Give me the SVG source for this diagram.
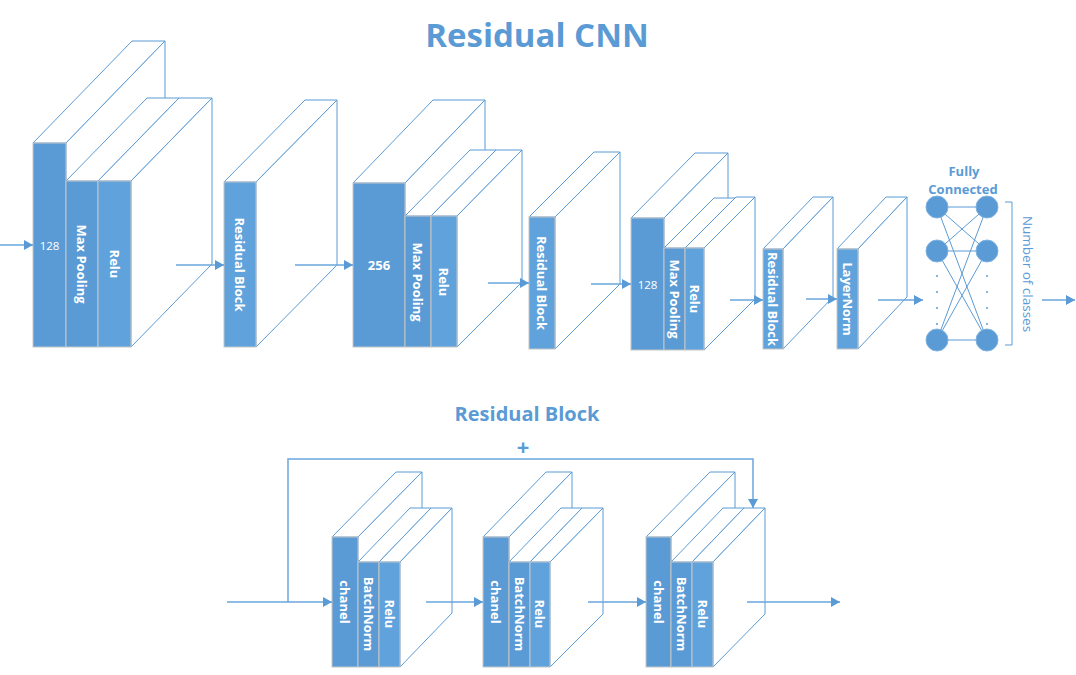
<svg xmlns="http://www.w3.org/2000/svg" width="1076" height="675" viewBox="0 0 1076 675">
<defs>
<style>
.face{fill:#fff;stroke:#5b9bd5;stroke-width:1}
.front{fill:#5b9bd5;stroke:#c6c6c6;stroke-width:1}
.front2{fill:#5fa2dc;stroke:#c6c6c6;stroke-width:1}
.lbl{font-family:'Open Sans','Liberation Sans',sans-serif;font-weight:bold;font-size:13px;fill:#fff;text-anchor:middle;dominant-baseline:central}
.num{font-family:'Open Sans','Liberation Sans',sans-serif;font-size:11.5px;fill:#fff;text-anchor:middle;dominant-baseline:central}
.title{font-family:'Open Sans','Liberation Sans',sans-serif;font-weight:bold;fill:#5b9bd5;text-anchor:middle}
.conn{fill:none;stroke:#6aa6dc;stroke-width:1.5}
.fc{stroke:#5b9bd5;stroke-width:1;fill:none}
.node{fill:#5b9bd5;stroke:#7fb2e0;stroke-width:1}
.dot{fill:#5b9bd5}
</style>
<marker id="arr" markerUnits="userSpaceOnUse" markerWidth="10" markerHeight="10" refX="9" refY="5" orient="auto">
<path d="M0,0 L9,5 L0,10 z" fill="#5b9bd5"/>
</marker>
</defs>
<rect width="1076" height="675" fill="#fff"/>
<text class="title" x="537" y="47" font-size="33">Residual CNN</text>
<text class="title" x="527" y="421" font-size="20">Residual Block</text>
<text class="title" x="523" y="455" font-size="22">+</text>

<!-- Top row -->
<g id="conv128a">
<polygon class="face" points="33,143 66,143 165,41 132,41"/>
<polygon class="face" points="66,143 165,41 165,245 66,347"/>
<rect class="front" x="33" y="143" width="33" height="204"/>
<text class="num" x="49.5" y="245">128</text>
</g>
<g id="maxpool1">
<polygon class="face" points="66,181 98,181 179,98 147,98"/>
<rect class="front" x="66" y="181" width="32" height="166"/>
<text class="lbl" transform="translate(82,264) rotate(90)">Max Pooling</text>
</g>
<g id="relu1">
<polygon class="face" points="98,181 131,181 212,98 179,98"/>
<polygon class="face" points="131,181 212,98 212,264 131,347"/>
<rect class="front2" x="98" y="181" width="33" height="166"/>
<text class="lbl" transform="translate(114.5,264) rotate(90)">Relu</text>
</g>
<g id="resblock1">
<polygon class="face" points="224,182 256,182 337,100 305,100"/>
<polygon class="face" points="256,182 337,100 337,265 256,347"/>
<rect class="front2" x="224" y="182" width="32" height="165"/>
<text class="lbl" transform="translate(240,264.5) rotate(90)">Residual Block</text>
</g>
<g id="conv256">
<polygon class="face" points="353,183 405,183 485,100 433,100"/>
<polygon class="face" points="405,183 485,100 485,264 405,347"/>
<rect class="front" x="353" y="183" width="52" height="164"/>
<text class="lbl" x="379" y="265" font-size="14">256</text>
</g>
<g id="maxpool2">
<polygon class="face" points="405,216 431,216 496,150 470,150"/>
<rect class="front" x="405" y="216" width="26" height="131"/>
<text class="lbl" transform="translate(418,282) rotate(90)">Max Pooling</text>
</g>
<g id="relu2">
<polygon class="face" points="431,216 457,216 522,150 496,150"/>
<polygon class="face" points="457,216 522,150 522,282 457,347"/>
<rect class="front2" x="431" y="216" width="26" height="131"/>
<text class="lbl" transform="translate(444,282) rotate(90)">Relu</text>
</g>
<g id="resblock2">
<polygon class="face" points="529,217 555,217 620,152 594,152"/>
<polygon class="face" points="555,217 620,152 620,284 555,349"/>
<rect class="front2" x="529" y="217" width="26" height="132"/>
<text class="lbl" transform="translate(542,283) rotate(90)">Residual Block</text>
</g>
<g id="conv128b">
<polygon class="face" points="631,218 664,218 728,153 695,153"/>
<polygon class="face" points="664,218 728,153 728,285 664,350"/>
<rect class="front" x="631" y="218" width="33" height="132"/>
<text class="num" x="647.5" y="284">128</text>
</g>
<g id="maxpool3">
<polygon class="face" points="664,248 685,248 735,198 714,198"/>
<rect class="front" x="664" y="248" width="21" height="102"/>
<text class="lbl" transform="translate(674.5,299) rotate(90)">Max Pooling</text>
</g>
<g id="relu3">
<polygon class="face" points="685,248 704,248 755,197 736,197"/>
<polygon class="face" points="704,248 755,197 755,299 704,350"/>
<rect class="front2" x="685" y="248" width="19" height="102"/>
<text class="lbl" transform="translate(694.5,299) rotate(90)">Relu</text>
</g>
<g id="resblock3">
<polygon class="face" points="763,249 783,249 833,197 813,197"/>
<polygon class="face" points="783,249 833,197 833,297 783,349"/>
<rect class="front2" x="763" y="249" width="20" height="100"/>
<text class="lbl" transform="translate(773,299) rotate(90)" font-size="11">Residual Block</text>
</g>
<g id="layernorm">
<polygon class="face" points="837,249 858,249 907,197 886,197"/>
<polygon class="face" points="858,249 907,197 907,297 858,349"/>
<rect class="front2" x="837" y="249" width="21" height="100"/>
<text class="lbl" transform="translate(847.5,299) rotate(90)">LayerNorm</text>
</g>

<g id="fully-connected">
<text class="title" x="964" y="176" font-size="13">Fully</text>
<text class="title" x="963" y="194" font-size="13">Connected</text>
<g class="fc">
<line x1="937" y1="207" x2="987" y2="207"/>
<line x1="937" y1="207" x2="987" y2="251"/>
<line x1="937" y1="207" x2="987" y2="340"/>
<line x1="937" y1="251" x2="987" y2="207"/>
<line x1="937" y1="251" x2="987" y2="251"/>
<line x1="937" y1="251" x2="987" y2="340"/>
<line x1="937" y1="340" x2="987" y2="207"/>
<line x1="937" y1="340" x2="987" y2="251"/>
<line x1="937" y1="340" x2="987" y2="340"/>
</g>
<circle class="node" cx="937" cy="207" r="11"/>
<circle class="node" cx="937" cy="251" r="11"/>
<circle class="node" cx="937" cy="340" r="11"/>
<circle class="node" cx="987" cy="207" r="11"/>
<circle class="node" cx="987" cy="251" r="11"/>
<circle class="node" cx="987" cy="340" r="11"/>
<circle class="dot" cx="937" cy="276" r="1"/>
<circle class="dot" cx="937" cy="292" r="1"/>
<circle class="dot" cx="937" cy="308" r="1"/>
<circle class="dot" cx="937" cy="324" r="1"/>
<circle class="dot" cx="987" cy="276" r="1"/>
<circle class="dot" cx="987" cy="292" r="1"/>
<circle class="dot" cx="987" cy="308" r="1"/>
<circle class="dot" cx="987" cy="324" r="1"/>
<path class="fc" d="M1005,202 H1012 V345 H1005"/>
<text transform="translate(1028,274) rotate(90)" font-family="'Open Sans','Liberation Sans',sans-serif" font-size="13.5" fill="#5b9bd5" text-anchor="middle" dominant-baseline="central">Number of classes</text>
</g>

<!-- Bottom row -->
<g id="b1-chanel">
<polygon class="face" points="332,537 358,537 422,472 396,472"/>
<polygon class="face" points="358,537 422,472 422,602 358,667"/>
<rect class="front" x="332" y="537" width="26" height="130"/>
<text class="lbl" transform="translate(345,602) rotate(90)">chanel</text>
</g>
<g id="b1-batchnorm">
<polygon class="face" points="358,562 379,562 431,508 410,508"/>
<rect class="front" x="358" y="562" width="21" height="105"/>
<text class="lbl" transform="translate(368.5,614) rotate(90)">BatchNorm</text>
</g>
<g id="b1-relu">
<polygon class="face" points="379,562 400,562 452,508 431,508"/>
<polygon class="face" points="400,562 452,508 452,613 400,667"/>
<rect class="front2" x="379" y="562" width="21" height="105"/>
<text class="lbl" transform="translate(389.5,614) rotate(90)">Relu</text>
</g>
<g id="b2-chanel">
<polygon class="face" points="483,537 509,537 572,472 546,472"/>
<polygon class="face" points="509,537 572,472 572,602 509,667"/>
<rect class="front" x="483" y="537" width="26" height="130"/>
<text class="lbl" transform="translate(496,602) rotate(90)">chanel</text>
</g>
<g id="b2-batchnorm">
<polygon class="face" points="509,562 530,562 582,508 561,508"/>
<rect class="front" x="509" y="562" width="21" height="105"/>
<text class="lbl" transform="translate(519.5,614) rotate(90)">BatchNorm</text>
</g>
<g id="b2-relu">
<polygon class="face" points="530,562 550,562 603,508 582,508"/>
<polygon class="face" points="550,562 603,508 603,614 550,667"/>
<rect class="front2" x="530" y="562" width="20" height="105"/>
<text class="lbl" transform="translate(540,614) rotate(90)">Relu</text>
</g>
<g id="b3-chanel">
<polygon class="face" points="646,537 671,537 735,472 710,472"/>
<polygon class="face" points="671,537 735,472 735,602 671,667"/>
<rect class="front" x="646" y="537" width="25" height="130"/>
<text class="lbl" transform="translate(658.5,602) rotate(90)">chanel</text>
</g>
<g id="b3-batchnorm">
<polygon class="face" points="671,562 692,562 744,508 723,508"/>
<rect class="front" x="671" y="562" width="21" height="105"/>
<text class="lbl" transform="translate(681.5,614) rotate(90)">BatchNorm</text>
</g>
<g id="b3-relu">
<polygon class="face" points="692,562 713,562 765,508 744,508"/>
<polygon class="face" points="713,562 765,508 765,614 713,667"/>
<rect class="front2" x="692" y="562" width="21" height="105"/>
<text class="lbl" transform="translate(702.5,614) rotate(90)">Relu</text>
</g>

<g id="connectors">
<line class="conn" x1="0" y1="245" x2="33" y2="245" marker-end="url(#arr)"/>
<line class="conn" x1="176" y1="265" x2="224" y2="265" marker-end="url(#arr)"/>
<line class="conn" x1="295" y1="265" x2="353" y2="265" marker-end="url(#arr)"/>
<line class="conn" x1="488" y1="283" x2="529" y2="283" marker-end="url(#arr)"/>
<line class="conn" x1="591" y1="284" x2="631" y2="284" marker-end="url(#arr)"/>
<line class="conn" x1="730" y1="300" x2="763" y2="300" marker-end="url(#arr)"/>
<line class="conn" x1="806" y1="299" x2="837" y2="299" marker-end="url(#arr)"/>
<line class="conn" x1="878" y1="300" x2="923" y2="300" marker-end="url(#arr)"/>
<line class="conn" x1="1042" y1="300" x2="1075" y2="300" marker-end="url(#arr)"/>
<line class="conn" x1="227" y1="602" x2="332" y2="602" marker-end="url(#arr)"/>
<path class="conn" d="M288,602 V459 H753 V508" marker-end="url(#arr)"/>
<line class="conn" x1="426" y1="602" x2="483" y2="602" marker-end="url(#arr)"/>
<line class="conn" x1="588" y1="602" x2="646" y2="602" marker-end="url(#arr)"/>
<line class="conn" x1="747" y1="602" x2="840" y2="602" marker-end="url(#arr)"/>
</g>
</svg>
